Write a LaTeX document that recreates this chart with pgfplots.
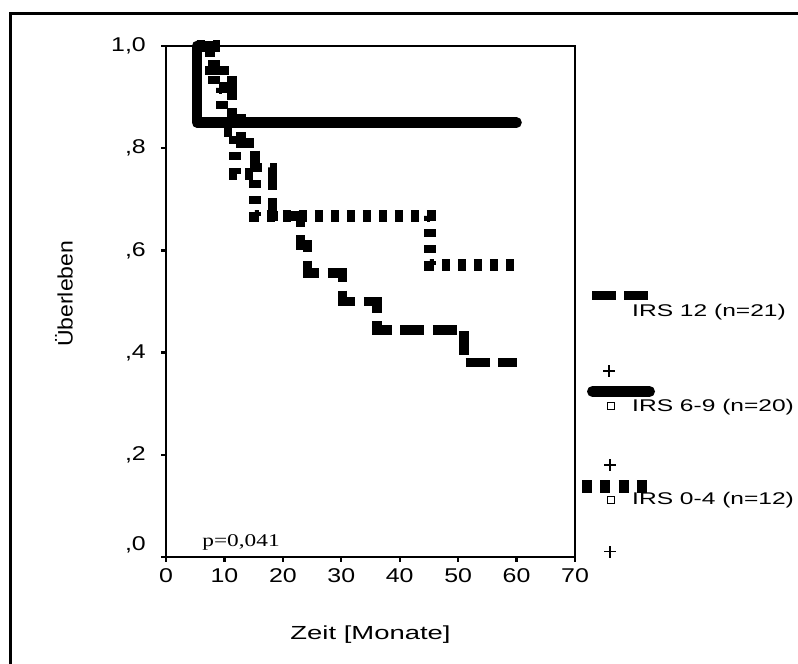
\documentclass[border=0pt]{standalone}
\usepackage{fontspec}
\usepackage{graphicx}
\usepackage{pgfplots}
\pgfplotsset{compat=1.18}
\setmainfont{Liberation Sans}
\newfontfamily\pfont{Liberation Serif}
% widened text, as in the original bitmap fonts
\newcommand{\tk}[1]{\scalebox{1.25}[1]{#1}}
\newcommand{\lb}[1]{\scalebox{1.45}[1]{#1}}

% Kaplan-Meier step curves (time in months, survival)
\pgfplotstableread{
t     s
5.3   1.000
7.5   0.952
11.3  0.857
12.8  0.810
15.2  0.762
18.2  0.667
23.0  0.611
24.2  0.556
30.2  0.500
36.1  0.444
51.0  0.381
60.0  0.381
}\irsA
\pgfplotstableread{
t     s
5.3   1.000
5.3   0.850
60.0  0.850
}\irsB
\pgfplotstableread{
t     s
5.3   1.000
8.3   0.917
9.6   0.833
11.8  0.750
15.2  0.667
45.1  0.571
60.0  0.571
}\irsC

\begin{document}
\begin{tikzpicture}[x=1bp,y=1bp]
\path[use as bounding box] (0,0) rectangle (798,664);
% frame around the figure
\draw[line width=3.4bp] (10.7,0) -- (10.7,650.3) -- (798,650.3);
\begin{axis}[
  at={(166bp,107bp)}, anchor=south west,
  scale only axis, width=409bp, height=511bp,
  xmin=0, xmax=70, ymin=0, ymax=1,
  xtick={0,10,20,30,40,50,60,70},
  xticklabels={\tk{0},\tk{10},\tk{20},\tk{30},\tk{40},\tk{50},\tk{60},\tk{70}},
  ytick={0,0.2,0.4,0.6,0.8,1},
  yticklabels={{},\tk{,2},\tk{,4},\tk{,6},\tk{,8},\tk{1,0}},
  tick pos=left, tick align=outside,
  major tick length=5bp,
  tick style={line width=2.4bp, black},
  axis line style={line width=1.6bp},
  xticklabel style={font=\fontsize{20}{20}\selectfont, anchor=north, inner sep=0pt, yshift=-6bp},
  yticklabel style={font=\fontsize{20}{20}\selectfont, anchor=east, inner sep=0pt, xshift=-15bp},
  xlabel={\lb{Zeit [Monate]}},
  xlabel style={font=\fontsize{19}{19}\selectfont, at={(axis description cs:0.5,-0.1517)}, anchor=center},
  ylabel={\scalebox{1.1}[1]{Überleben}},
  ylabel style={font=\fontsize{21}{21}\selectfont, at={(axis description cs:-0.2494,0.515)}, anchor=center},
  clip=false,
]
\addplot[black, const plot, line width=9.5bp, dash pattern=on 24bp off 8.5bp] table[x=t,y=s] {\irsA};
\addplot[black, const plot, line width=12bp, dash pattern=on 8bp off 8bp] table[x=t,y=s] {\irsC};
\addplot[black, line width=10.5bp, line cap=round, line join=round] table[x=t,y=s] {\irsB};
% label of the zero tick, set slightly higher
\node[anchor=east, inner sep=0pt, font=\fontsize{20}{20}\selectfont] at ([xshift=-20bp,yshift=12bp]axis cs:0,0) {\tk{,0}};
\node[anchor=base west, inner sep=0pt, font=\pfont\fontsize{18}{18}\selectfont] at (axis cs:6.2,0.02) {\scalebox{1.3}[1]{p=0,041}};
\end{axis}
% legend
\draw[line width=9bp, dash pattern=on 24bp off 8bp] (592,368) -- (648,368);
\node[anchor=base west, inner sep=0pt, font=\fontsize{17}{17}\selectfont] at (632,347) {\lb{IRS 12 (n=21)}};
\draw[line width=1.3bp] (603,293) -- (615,293) (609,287) -- (609,299);
\draw[line width=11bp, line cap=round] (592.5,272.5) -- (649.5,272.5);
\draw[line width=1.3bp] (607.3,254.3) rectangle (614.7,261.7);
\node[anchor=base west, inner sep=0pt, font=\fontsize{17}{17}\selectfont] at (632,252) {\lb{IRS 6-9 (n=20)}};
\draw[line width=1.3bp] (604,199) -- (616,199) (610,193) -- (610,205);
\draw[line width=13bp, dash pattern=on 10bp off 8.3bp] (582,177.5) -- (650,177.5);
\draw[line width=1.3bp] (607.3,160.3) rectangle (614.7,167.7);
\node[anchor=base west, inner sep=0pt, font=\fontsize{17}{17}\selectfont] at (632,159) {\lb{IRS 0-4 (n=12)}};
\draw[line width=1.3bp] (604,112.3) -- (616,112.3) (610,106.3) -- (610,118.3);
\end{tikzpicture}
\end{document}
